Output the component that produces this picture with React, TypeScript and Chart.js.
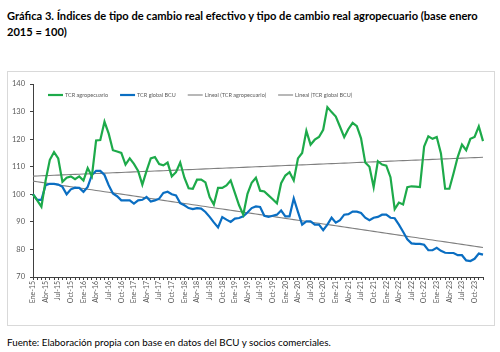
import React, { useEffect, useRef } from 'react';
import { Chart, registerables } from 'chart.js';

Chart.register(...registerables);

const MONTHS = ['Ene', 'Feb', 'Mar', 'Abr', 'May', 'Jun', 'Jul', 'Ago', 'Sep', 'Oct', 'Nov', 'Dic'];
const YEARS = ['15', '16', '17', '18', '19', '20', '21', '22', '23'];
const CATEGORIES = YEARS.flatMap((y) => MONTHS.map((m) => `${m}-${y}`));

const TCR_AGRO = [
  100, 97.8, 95.5, 105, 112.5, 115.3, 113, 104.5, 106, 106.5, 105.5, 106.5,
  105, 109.5, 106.5, 119.5, 119.7, 126.3, 122, 116, 115.5, 115, 110.8, 113,
  111, 108.5, 103.5, 108.5, 113, 113.5, 111, 110.5, 111.5, 106.5, 108, 111.5,
  106, 102.2, 102, 105.3, 105.3, 104.3, 99, 96.3, 102.3, 102.3, 103.2, 105,
  100.5, 96, 92.6, 100.2, 104.2, 106, 101.3, 101, 99.6, 98.2, 96.7, 104,
  106.8, 108, 105, 113, 115, 123, 118, 119.8, 120.8, 123.4, 131.6, 129.8,
  128.2, 124.5, 120.7, 123.7, 125.9, 124.7, 120.3, 111.5, 110, 102.6, 112, 110.8,
  110.4, 106.2, 94.6, 97, 96.3, 102.6, 102.9, 102.8, 102.6, 117.3, 121, 120.1,
  120.8, 114.8, 102, 102, 107.6, 113.6, 118, 116, 120.1, 120.8, 124.6, 119.3,
];

const TCR_BCU = [
  100, 98, 98, 103.3, 103.8, 103.8, 103.5, 102.7, 100, 101.8, 102.4, 102.3,
  100.9, 102.7, 107, 108.5, 108.5, 107, 103.3, 100.3, 99.3, 97.8, 97.8, 97.8,
  96.6, 97.8, 98, 99, 97.4, 97.8, 98.4, 100.5, 100.9, 100, 99.6, 96.8,
  96, 95, 94.6, 95, 94.8, 93.6, 91.8, 89.8, 88, 91.7, 90.8, 90,
  91.2, 91.4, 92, 93.4, 95, 95.6, 95.4, 92.2, 91.8, 92.2, 92.6, 94.1,
  92, 92, 98.5, 93.6, 89, 90.2, 90.2, 89, 89, 87, 89, 91.5,
  89.7, 90.6, 92.6, 92.8, 93.7, 93.7, 93.2, 91.5, 90.6, 91.5, 91.8, 92.6,
  92.6, 91.5, 91.3, 89, 86.4, 83.7, 82.2, 82, 82, 81.7, 79.7, 79.7,
  80.6, 79.5, 78.8, 78.7, 78.7, 77.9, 77.9, 76, 75.8, 76.6, 78.5, 78.1,
];

const Y_MIN = 70;
const Y_MAX = 140;
const Y_STEP = 10;

const SERIES_LABELS = [
  'TCR agropecuario',
  'TCR global BCU',
  'Lineal (TCR agropecuario)',
  'Lineal (TCR global BCU)',
];

function linearTrend(values: number[]): number[] {
  const n = values.length;
  let sx = 0, sy = 0, sxx = 0, sxy = 0;
  values.forEach((v, i) => {
    const x = i + 1;
    sx += x; sy += v; sxx += x * x; sxy += x * v;
  });
  const b = (n * sxy - sx * sy) / (n * sxx - sx * sx);
  const a = (sy - b * sx) / n;
  return values.map((_, i) => a + b * (i + 1));
}

const legendPlugin = {
  id: 'inlineLegend',
  afterDraw(chart: any) {
    const { ctx, chartArea } = chart;
    ctx.save();
    ctx.font = '5.5px Lato';
    ctx.textBaseline = 'middle';
    let x = chartArea.left + 15;
    const y = chartArea.top + 11;
    chart.data.datasets.forEach((ds: any) => {
      ctx.strokeStyle = ds.borderColor;
      ctx.lineWidth = ds.borderWidth;
      ctx.beginPath();
      ctx.moveTo(x, y);
      ctx.lineTo(x + 15, y);
      ctx.stroke();
      x += 17;
      ctx.fillStyle = '#595959';
      ctx.fillText(ds.label, x, y);
      x += ctx.measureText(ds.label).width + 12;
    });
    ctx.restore();
  },
};

export default function App() {
  const ref = useRef<HTMLCanvasElement | null>(null);

  useEffect(() => {
    if (!ref.current) return;
    Chart.defaults.font.family = 'Lato';
    const chart = new Chart(ref.current, {
      type: 'line',
      data: {
        labels: CATEGORIES,
        datasets: [
          { label: SERIES_LABELS[0], data: TCR_AGRO, borderColor: '#1DAA4A', borderWidth: 2.2, pointRadius: 0, tension: 0 },
          { label: SERIES_LABELS[1], data: TCR_BCU, borderColor: '#0A6EC2', borderWidth: 2.2, pointRadius: 0, tension: 0 },
          { label: SERIES_LABELS[2], data: linearTrend(TCR_AGRO), borderColor: '#7F7F7F', borderWidth: 1.1, pointRadius: 0 },
          { label: SERIES_LABELS[3], data: linearTrend(TCR_BCU), borderColor: '#7F7F7F', borderWidth: 1.1, pointRadius: 0 },
        ],
      },
      options: {
        responsive: false,
        animation: false,
        layout: { padding: { left: 0, right: 12, top: 13, bottom: 0 } },
        plugins: { legend: { display: false }, tooltip: { enabled: false } },
        scales: {
          x: {
            type: 'category',
            offset: false,
            grid: { display: true, drawOnChartArea: false, drawTicks: true, tickLength: 3, color: '#404040' },
            border: { display: true, color: '#404040', width: 1 },
            ticks: {
              autoSkip: false,
              maxRotation: 90,
              minRotation: 90,
              padding: 1,
              color: '#595959',
              font: { size: 7 },
              callback: (_v: any, i: number) => (i % 3 === 0 ? CATEGORIES[i] : ''),
            },
            afterFit: (s: any) => { s.height = 49; },
          },
          y: {
            min: Y_MIN,
            max: Y_MAX,
            grid: { display: true, drawOnChartArea: false, drawTicks: true, tickLength: 3, color: '#404040' },
            border: { display: true, color: '#404040', width: 1 },
            ticks: { stepSize: Y_STEP, padding: 5, color: '#595959', font: { size: 7.5 } },
            afterFit: (s: any) => { s.width = 26; },
          },
        },
      },
      plugins: [legendPlugin],
    });
    return () => chart.destroy();
  }, []);

  return (
    <div style={{ position: 'absolute', left: 0, top: 0, width: 500, height: 352, background: '#fff', fontFamily: 'Lato' }}>
      <div style={{ position: 'absolute', left: 7, top: 8, fontWeight: 700, fontSize: 11.1, lineHeight: '16px', color: '#000', whiteSpace: 'nowrap' }}>
        Gráfica 3. Índices de tipo de cambio real efectivo y tipo de cambio real agropecuario (base enero
        <br />
        2015 = 100)
      </div>
      <div style={{ position: 'absolute', left: 7, top: 71, width: 488, height: 255, border: '1px solid #D9D9D9', boxSizing: 'border-box' }} />
      <canvas ref={ref} width={488} height={255} style={{ position: 'absolute', left: 7, top: 71 }} />
      <div style={{ position: 'absolute', left: 7, top: 336, fontSize: 9.8, color: '#000', whiteSpace: 'nowrap' }}>
        Fuente: Elaboración propia con base en datos del BCU y socios comerciales.
      </div>
    </div>
  );
}
